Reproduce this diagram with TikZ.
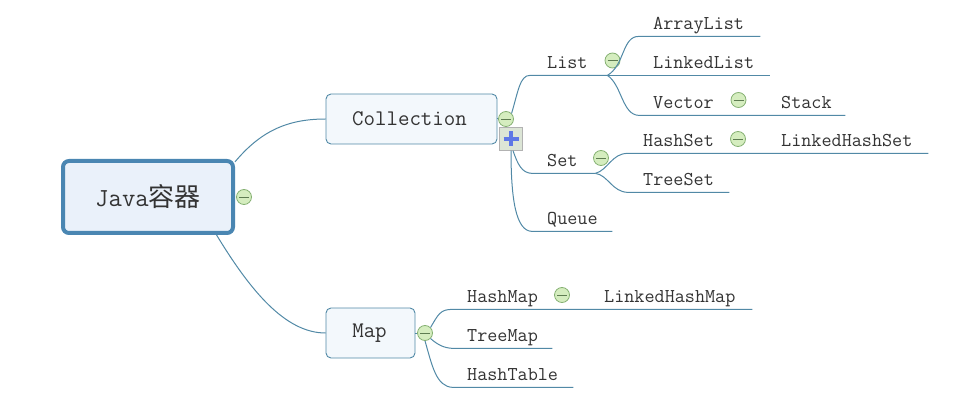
\documentclass[tikz,border=0pt]{standalone}
\usepackage{xcolor}
\usepackage{fontspec}
\newfontfamily\cjk{Noto Sans CJK SC}
\usetikzlibrary{positioning}

\definecolor{branchcol}{HTML}{5189A6}
\definecolor{rootcol}{HTML}{4A86B2}
\definecolor{rootfill}{HTML}{EAF1FA}
\definecolor{boxfill}{HTML}{F3F8FC}
\definecolor{dotcol}{HTML}{D5EDBF}
\definecolor{dotline}{HTML}{86B173}
\definecolor{plusfill}{HTML}{DCE5D6}
\definecolor{pluscol}{HTML}{5F78E6}
\definecolor{textcol}{HTML}{333333}

\tikzset{
    branch/.style={draw=branchcol, line width=1pt},
    box/.style={draw=branchcol, line width=0.9pt, rounded corners=5pt, fill=boxfill, text=textcol,
                font=\ttfamily\fontsize{22.3}{24}\selectfont, minimum height=50pt},
    topic/.style={anchor=south west, inner xsep=0pt, inner ysep=3pt, text height=14pt, text depth=4pt,
                text width=#1, align=left, text=textcol, font=\ttfamily\fontsize{19.6}{22}\selectfont},
    dot/.style={circle, draw=dotline, fill=dotcol, line width=0.8pt, minimum size=15pt, inner sep=0pt,
                path picture={\draw[dotline!70!black, line width=0.8pt]
                    ([xshift=2.5pt]path picture bounding box.west) -- ([xshift=-2.5pt]path picture bounding box.east);}},
}

\begin{document}
\begin{tikzpicture}[x=1pt,y=-1pt]
    \useasboundingbox (0,0) rectangle (956,406);

    % main boxes
    \node [draw=rootcol, line width=4pt, rounded corners=6pt, fill=rootfill, text=textcol,
            minimum width=170pt, minimum height=72pt, inner sep=0pt,
            font=\ttfamily\fontsize{26}{28}\selectfont] (java) at (148,197) {Java{\cjk\fontsize{26}{28}\selectfont 容器}};
    \node [box, minimum width=171pt, inner sep=0pt] (coll) at (411.5,119) {\hspace*{-4pt}Collection};
    \node [box, minimum width=89pt, inner sep=0pt] (map) at (370.5,333) {\hspace*{-2pt}Map};

    % first level
    \node [topic=60pt] (list) at (547,75.4) {List};
    \node [topic=48pt] (set) at (547,173.4) {Set};
    \node [topic=65pt] (queue) at (547,231.4) {Queue};
    \node [topic=137pt] (hashmap) at (467,309.4) {HashMap};
    \node [topic=85pt] (treemap) at (467,348.4) {TreeMap};
    \node [topic=106pt] (hashtable) at (467,387.4) {HashTable};

    % second level
    \node [topic=107pt] (arraylist) at (653,36.4) {ArrayList};
    \node [topic=117pt] (linkedlist) at (653,75.4) {LinkedList};
    \node [topic=127pt] (vector) at (653,115.4) {Vector};
    \node [topic=64pt] (stack) at (781,115.4) {Stack};
    \node [topic=137pt] (hashset) at (643,153.4) {HashSet};
    \node [topic=86pt] (treeset) at (643,192.4) {TreeSet};
    \node [topic=147pt] (linkedhashset) at (781,153.4) {LinkedHashSet};
    \node [topic=148pt] (linkedhashmap) at (604,309.4) {LinkedHashMap};

    % collapse marks
    \node [dot] (javadot) at (244,197) {};
    \node [dot] (colldot) at (506,119) {};
    \node [dot] (mapdot) at (425,333) {};
    \node [dot] (listdot) at (612.5,60.5) {};
    \node [dot] (setdot) at (601,158) {};
    \node [dot] (vectordot) at (738.5,100) {};
    \node [dot] (hashsetdot) at (738,139) {};
    \node [dot] (hashmapdot) at (562,295) {};
    \node [draw=gray!60, fill=plusfill, minimum size=23pt, inner sep=0pt] (plusbox) at (511,139) {};
    \draw [pluscol, line width=3.5pt] (plusbox.center) +(-7.5,0) -- +(7.5,0) (plusbox.center) +(0,-7.5) -- +(0,7.5);

    % connectors
    \draw [branch] (java.22) to[out=50,in=180] (coll.west);
    \draw [branch] (java.-29) .. controls (250,290) and (285,333) .. (map.west);
    \draw [branch] (coll.east) -- (colldot.west);
    \draw [branch] (colldot.north east) .. controls (518,92) and (520,75) .. ([xshift=-17pt]list.south west) -- (list.south east);
    \draw [branch] (plusbox.south) ++(2,0) .. controls (518,165) and (522,173) .. ([xshift=-15pt]set.south west) -- (set.south east);
    \draw [branch] (plusbox.south) .. controls (511,200) and (516,231) .. ([xshift=-15pt]queue.south west) -- (queue.south east);
    \draw [branch] (list.south east) .. controls (625,65) and (622,36) .. ([xshift=-14pt]arraylist.south west) -- (arraylist.south east);
    \draw [branch] (list.south east) -- (linkedlist.south west) -- (linkedlist.south east);
    \draw [branch] (list.south east) .. controls (622,85) and (622,115) .. ([xshift=-14pt]vector.south west) -- (vector.south east) -- (stack.south east);
    \draw [branch] (set.south east) .. controls (608,170) and (612,153) .. ([xshift=-15pt]hashset.south west) -- (hashset.south east) -- (linkedhashset.south east);
    \draw [branch] (set.south east) .. controls (608,175) and (612,192) .. ([xshift=-15pt]treeset.south west) -- (treeset.south east);
    \draw [branch] (map.east) -- (mapdot.west);
    \draw [branch] (mapdot.north east) .. controls (438,315) and (440,309) .. ([xshift=-14pt]hashmap.south west) -- (hashmap.south east) -- (linkedhashmap.south east);
    \draw [branch] (mapdot.south east) .. controls (438,345) and (444,348) .. ([xshift=-14pt]treemap.south west) -- (treemap.south east);
    \draw [branch] (mapdot.south) .. controls (432,365) and (436,387) .. ([xshift=-14pt]hashtable.south west) -- (hashtable.south east);
\end{tikzpicture}
\end{document}
